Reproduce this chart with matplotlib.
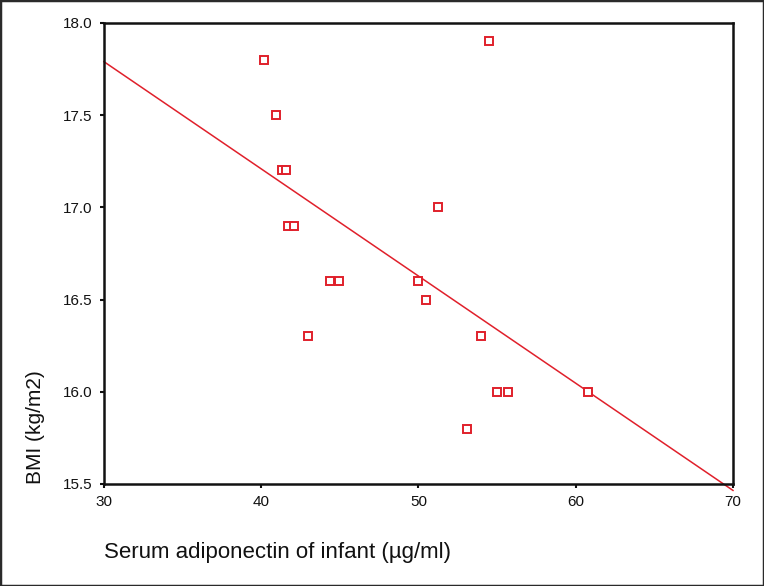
import matplotlib
matplotlib.use("Agg")
import matplotlib.pyplot as plt
from matplotlib.patches import Rectangle

# ==========================================================
# Data
# ==========================================================
adiponectin = [40.15, 54.5, 40.95, 41.3, 41.6, 41.7, 42.1, 44.4, 44.95,
               43.0, 51.25, 50.0, 50.45, 53.95, 53.1, 55.0, 55.7, 60.8]
bmi = [17.8, 17.9, 17.5, 17.2, 17.2, 16.9, 16.9, 16.6, 16.6,
       16.3, 17.0, 16.6, 16.5, 16.3, 15.8, 16.0, 16.0, 16.0]

# fitted line, end points as printed in the figure
fit_x = [30, 70]
fit_y = [17.79, 15.465]

x_ticks = [30, 40, 50, 60, 70]
y_ticks = [15.5, 16.0, 16.5, 17.0, 17.5, 18.0]

plt.rcParams["font.family"] = ["Liberation Sans", "DejaVu Sans"]

red = "#e0202b"
ink = "#111111"

# ==========================================================
# Figure
# ==========================================================
fig = plt.figure(figsize=(7.64, 5.86), dpi=100)
ax = fig.add_axes([0.1361, 0.1741, 0.8233, 0.7867])

ax.plot(fit_x, fit_y, color=red, linewidth=1.1, clip_on=False, zorder=2)
ax.plot(adiponectin, bmi, linestyle="none", marker="s", markersize=5.2,
        markerfacecolor="white", markeredgecolor=red, markeredgewidth=1.4,
        zorder=3)

ax.set_xlim(30, 70)
ax.set_ylim(15.5, 18.0)
ax.set_xticks(x_ticks)
ax.set_xticklabels([str(v) for v in x_ticks])
ax.set_yticks(y_ticks)
ax.set_yticklabels([f"{v:.1f}" for v in y_ticks])

for s in ax.spines.values():
    s.set_linewidth(1.8)
    s.set_color(ink)

ax.tick_params(axis="both", direction="out", length=3, width=1.5,
               labelsize=11, colors=ink, pad=5)

ax.set_xlabel("Serum adiponectin of infant (µg/ml)", fontsize=16,
              color=ink, loc="left", labelpad=24)
ax.set_ylabel("BMI (kg/m2)", fontsize=15, color=ink,
              loc="bottom", labelpad=13)

# dark frame round the picture
fig.add_artist(Rectangle((0, 0), 1, 1, transform=fig.transFigure,
                         fill=False, edgecolor="#2a2a2a", linewidth=2.5))

fig.savefig("out.png", dpi=100, facecolor="white")
